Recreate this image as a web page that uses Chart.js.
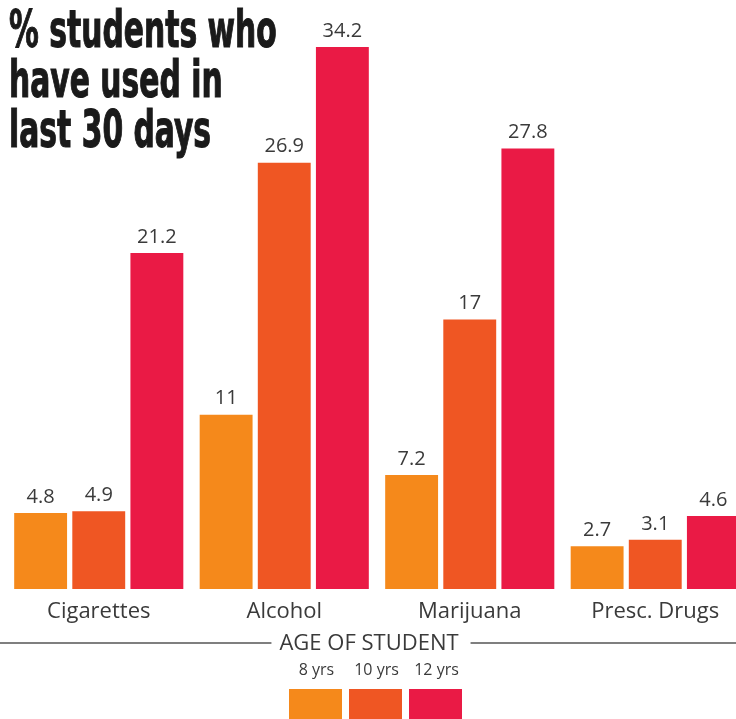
<!DOCTYPE html>
<html>
<head>
<meta charset="utf-8">
<script src="https://cdn.jsdelivr.net/npm/chart.js@4"></script>
<style>
  html, body { margin: 0; padding: 0; background: #fff; overflow: hidden; }
  #wrap { position: relative; width: 750px; height: 719px; }
  #title {
    position: absolute; left: 9px; top: 4px; z-index: 2; white-space: nowrap;
    font-family: "Liberation Sans Narrow", "DejaVu Sans Condensed", sans-serif;
    font-weight: 700; font-size: 46px; line-height: 45px; color: #1a1a1a;
    -webkit-text-stroke: 1px #1a1a1a;
    transform: scale(0.72, 1.12); transform-origin: top left;
  }
</style>
</head>
<body>
<div id="wrap">
  <div id="title">% students who<br>have used in<br>last 30 days</div>
  <canvas id="chart"></canvas>
</div>
<script>
const categories = ["Cigarettes", "Alcohol", "Marijuana", "Presc. Drugs"];
const ages = ["8 yrs", "10 yrs", "12 yrs"];
const age8 = [4.8, 11, 7.2, 2.7];
const age10 = [4.9, 26.9, 17, 3.1];
const age12 = [21.2, 34.2, 27.8, 4.6];
const colors = ["#f5891b", "#ef5623", "#ea1a45"];

const labelFont = '"Open Sans", "Lato", sans-serif';

// values on top of bars + the age legend at the bottom
const extras = {
  id: "extras",
  afterDatasetsDraw(chart) {
    let ctx = chart.ctx;
    ctx.save();
    ctx.fillStyle = "#3a3a3a";
    ctx.font = "20px " + labelFont;
    ctx.textAlign = "center";
    ctx.textBaseline = "bottom";
    chart.data.datasets.forEach((ds, i) => {
      let meta = chart.getDatasetMeta(i);
      meta.data.forEach((bar, j) => {
        ctx.fillText(String(ds.data[j]), bar.x, bar.y - 6);
      });
    });
    ctx.restore();
  },
  afterDraw(chart) {
    let ctx = chart.ctx;
    let cx = 369;
    ctx.save();
    ctx.fillStyle = "#3a3a3a";
    ctx.font = "22px " + labelFont;
    ctx.textAlign = "center";
    ctx.textBaseline = "middle";
    ctx.fillText("AGE OF STUDENT", cx, 644);
    let w = ctx.measureText("AGE OF STUDENT").width;
    ctx.strokeStyle = "#555";
    ctx.lineWidth = 1.5;
    ctx.beginPath();
    ctx.moveTo(0, 643); ctx.lineTo(cx - w / 2 - 8, 643);
    ctx.moveTo(cx + w / 2 + 12, 643); ctx.lineTo(736, 643);
    ctx.stroke();
    ctx.font = "16px " + labelFont;
    let sw = 53, gap = 7;
    let x0 = 289;
    chart.data.datasets.forEach((ds, i) => {
      let x = x0 + i * (sw + gap);
      ctx.fillStyle = "#3a3a3a";
      ctx.fillText(ds.label, x + sw / 2 + 1, 670);
      ctx.fillStyle = ds.backgroundColor;
      ctx.fillRect(x, 689, sw, 30);
    });
    ctx.restore();
  }
};

new Chart(document.getElementById("chart"), {
  type: "bar",
  data: {
    labels: categories,
    datasets: [
      { label: ages[0], data: age8, backgroundColor: colors[0] },
      { label: ages[1], data: age10, backgroundColor: colors[1] },
      { label: ages[2], data: age12, backgroundColor: colors[2] }
    ]
  },
  options: {
    responsive: true,
    maintainAspectRatio: false,
    animation: false,
    layout: { padding: { top: 47, left: 6, right: 2, bottom: 0 } },
    categoryPercentage: 0.94,
    barPercentage: 0.91,
    plugins: { legend: { display: false }, tooltip: { enabled: false } },
    scales: {
      y: { display: false, min: 0, max: 34.2 },
      x: {
        grid: { display: false, drawTicks: false },
        border: { display: false },
        ticks: { color: "#3a3a3a", font: { family: labelFont, size: 22 }, padding: 10 },
        afterFit(scale) { scale.height = 130; }
      }
    }
  },
  plugins: [extras]
});
</script>
</body>
</html>
